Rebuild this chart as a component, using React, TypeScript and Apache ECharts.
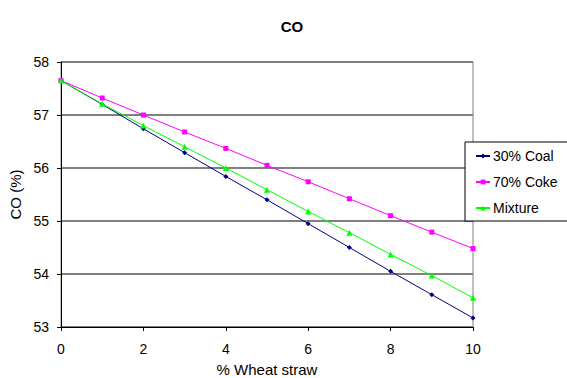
import React, { useEffect, useRef } from "react";
import * as echarts from "echarts";

const wheatStraw = [0, 1, 2, 3, 4, 5, 6, 7, 8, 9, 10];
const coal30 = [57.65, 57.2, 56.74, 56.29, 55.84, 55.4, 54.95, 54.5, 54.05, 53.61, 53.17];
const coke70 = [57.65, 57.32, 57.0, 56.68, 56.37, 56.05, 55.74, 55.42, 55.1, 54.79, 54.48];
const mixture = [57.65, 57.21, 56.8, 56.4, 56.0, 55.59, 55.18, 54.78, 54.37, 53.97, 53.55];
const seriesNames = ["30% Coal", "70% Coke", "Mixture"];

const FONT = "'Liberation Sans', Arial, sans-serif";

export default function App() {
  const ref = useRef<HTMLDivElement>(null);
  useEffect(() => {
    if (!ref.current) return;
    const chart = echarts.init(ref.current, null, { renderer: "svg" });
    const pair = (ys: number[]) => wheatStraw.map((x, i) => [x, ys[i]]);
    chart.setOption({
      animation: false,
      backgroundColor: "#ffffff",
      textStyle: { fontFamily: FONT },
      title: {
        text: "CO",
        left: 287,
        top: 14,
        textAlign: "center",
        textStyle: { fontFamily: FONT, fontSize: 15, fontWeight: "bold", color: "#000" },
      },
      grid: {
        left: 61,
        top: 62,
        right: 94,
        bottom: 51,
        containLabel: false,
        outerBoundsMode: "none",
        show: true,
        borderColor: "#808080",
        borderWidth: 1,
        backgroundColor: "transparent",
      },
      legend: {
        orient: "vertical",
        left: 465,
        top: 142,
        backgroundColor: "#ffffff",
        borderColor: "#000000",
        borderWidth: 1,
        borderRadius: 0,
        padding: [7, 12, 6, 10],
        itemGap: 12,
        itemWidth: 14,
        itemHeight: 6,
        textStyle: { fontFamily: FONT, fontSize: 14, color: "#000", padding: [0, 0, 0, -2] },
        data: seriesNames,
      },
      xAxis: {
        type: "value",
        min: 0,
        max: 10,
        interval: 2,
        name: "% Wheat straw",
        nameLocation: "middle",
        nameGap: 35,
        nameTextStyle: { fontFamily: FONT, fontSize: 15, color: "#000" },
        axisLine: { onZero: false, lineStyle: { color: "#000", width: 1 } },
        axisTick: { show: true, length: 4, lineStyle: { color: "#000" } },
        axisLabel: { fontFamily: FONT, fontSize: 14, color: "#000", margin: 15 },
        splitLine: { show: false },
      },
      yAxis: {
        type: "value",
        min: 53,
        max: 58,
        interval: 1,
        name: "CO (%)",
        nameLocation: "middle",
        nameGap: 32,
        nameTextStyle: { fontFamily: FONT, fontSize: 15, color: "#000" },
        axisLine: { show: true, onZero: false, lineStyle: { color: "#000", width: 1 } },
        axisTick: { show: true, length: 4, lineStyle: { color: "#000" } },
        axisLabel: { fontFamily: FONT, fontSize: 14, color: "#000", margin: 12 },
        splitLine: { show: true, lineStyle: { color: "#808080", width: 2 } },
      },
      series: [
        {
          name: seriesNames[0],
          type: "line",
          data: pair(coal30),
          symbol: "diamond",
          symbolSize: 5,
          color: "#000080",
          lineStyle: { width: 1, color: "#000080" },
          itemStyle: { color: "#000080" },
          z: 3,
        },
        {
          name: seriesNames[1],
          type: "line",
          data: pair(coke70),
          symbol: "rect",
          symbolSize: 5,
          color: "#ff00ff",
          lineStyle: { width: 1, color: "#ff00ff" },
          itemStyle: { color: "#ff00ff" },
          z: 3,
        },
        {
          name: seriesNames[2],
          type: "line",
          data: pair(mixture),
          symbol: "triangle",
          symbolSize: 6,
          color: "#00ff00",
          lineStyle: { width: 1, color: "#00ff00" },
          itemStyle: { color: "#00ff00" },
          z: 3,
        },
      ],
    });
    return () => chart.dispose();
  }, []);
  return (
    <div
      ref={ref}
      style={{ position: "fixed", left: 0, top: 0, width: 567, height: 378, background: "#fff" }}
    />
  );
}
